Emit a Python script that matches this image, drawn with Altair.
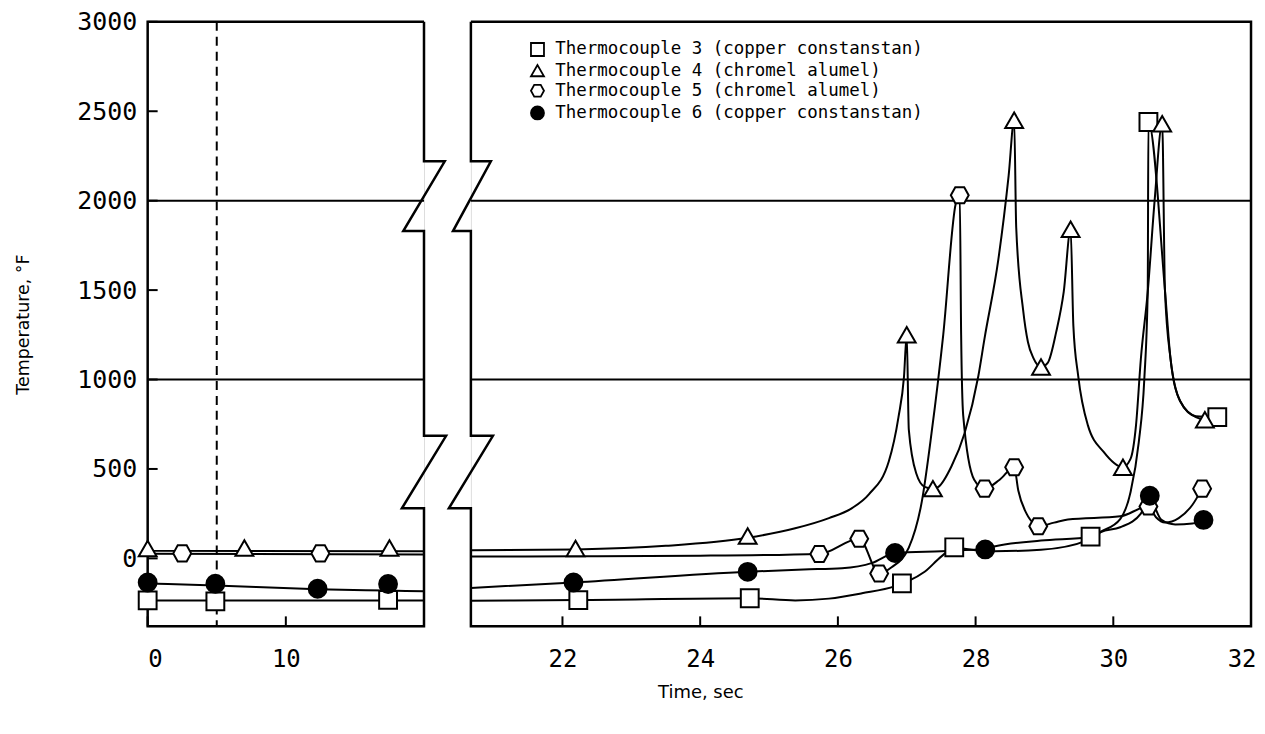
import altair as alt
import pandas as pd

# ---------------- data ----------------
SERIES = [
    "Thermocouple 3 (copper constanstan)",
    "Thermocouple 4 (chromel alumel)",
    "Thermocouple 5 (chromel alumel)",
    "Thermocouple 6 (copper constanstan)",
]

# left panel (0-20 s) measured points
tc3_left_x = [0.0, 4.9, 17.4]
tc3_left_y = [-235, -240, -232]
tc4_left_x = [0.0, 7.0, 17.5]
tc4_left_y = [55, 58, 58]
tc5_left_x = [2.5, 12.5]
tc5_left_y = [28, 28]
tc6_left_x = [0.0, 4.9, 12.3, 17.4]
tc6_left_y = [-135, -142, -170, -143]

# left panel faired curves
tc3_left_curve_x = [0.0, 20.0]
tc3_left_curve_y = [-236, -236]
tc4_left_curve_x = [0.0, 20.0]
tc4_left_curve_y = [42, 40]
tc5_left_curve_x = [0.0, 20.0]
tc5_left_curve_y = [26, 22]
tc6_left_curve_x = [0.0, 4.9, 12.3, 17.4, 20.0]
tc6_left_curve_y = [-140, -152, -172, -180, -184]

# right panel (20.7-32 s) measured points
tc3_right_x = [22.23, 24.72, 26.93, 27.69, 29.67, 30.51, 31.51]
tc3_right_y = [-233, -223, -140, 62, 122, 2440, 790]
tc4_right_x = [22.19, 24.69, 27.0, 27.38, 28.56, 28.95, 29.38, 30.14, 30.71, 31.33]
tc4_right_y = [55, 125, 1250, 390, 2450, 1070, 1840, 510, 2430, 775]
tc5_right_x = [25.73, 26.31, 26.6, 27.77, 28.13, 28.56, 28.91, 30.51, 31.29]
tc5_right_y = [25, 110, -85, 2030, 390, 510, 180, 290, 390]
tc6_right_x = [22.16, 24.69, 26.83, 28.14, 30.53, 31.31]
tc6_right_y = [-135, -75, 30, 50, 350, 215]

# right panel faired curves
tc3_right_curve_x = [20.67, 22.23, 24.72, 25.38, 25.87, 26.35, 26.83, 26.93, 27.03, 27.26,
                     27.5, 27.69, 28.04, 28.27, 28.95, 29.67, 29.82, 30.1, 30.25, 30.37,
                     30.45, 30.5, 30.51, 30.75, 30.83, 30.97, 31.2, 31.51]
tc3_right_curve_y = [-237, -233, -223, -235, -225, -195, -155, -140, -125, -75,
                     10, 60, 45, 67, 100, 120, 150, 220, 370, 650,
                     1000, 1500, 2440, 1500, 1120, 880, 795, 790]
tc4_right_curve_x = [20.67, 22.19, 23.5, 24.69, 25.38, 25.87, 26.2, 26.45, 26.74, 26.88,
                     26.96, 27.0, 27.03, 27.14, 27.26, 27.38, 27.46, 27.65, 27.84, 28.04,
                     28.13, 28.33, 28.48, 28.56, 28.59, 28.69, 28.76, 28.84, 28.95, 29.05,
                     29.17, 29.28, 29.38, 29.42, 29.49, 29.63, 29.86, 30.14, 30.25, 30.33,
                     30.4, 30.5, 30.6, 30.71, 30.75, 30.83, 30.97, 31.2, 31.33]
tc4_right_curve_y = [45, 50, 70, 115, 168, 225, 280, 358, 543, 790,
                     1015, 1250, 720, 473, 400, 390, 400, 515, 700, 1020,
                     1230, 1670, 2140, 2450, 1850, 1390, 1210, 1120, 1070, 1095,
                     1265, 1490, 1840, 1300, 1020, 745, 595, 510, 556, 745,
                     1115, 1490, 2000, 2430, 1500, 1120, 880, 790, 775]
tc5_right_curve_x = [20.67, 22.2, 24.0, 25.73, 26.31, 26.6, 26.78, 27.03, 27.22, 27.36,
                     27.53, 27.71, 27.77, 27.79, 27.82, 27.98, 28.13, 28.35, 28.56, 28.62,
                     28.74, 28.86, 28.91, 29.14, 29.34, 30.1, 30.51, 30.62, 30.75, 30.95,
                     31.15, 31.29]
tc5_right_curve_y = [10, 12, 15, 25, 110, -85, -50, 60, 320, 700,
                     1250, 1980, 2030, 1250, 800, 440, 390, 440, 510, 380,
                     250, 190, 180, 200, 217, 235, 290, 230, 200, 225,
                     300, 390]
tc6_right_curve_x = [20.67, 22.16, 24.69, 25.5, 26.06, 26.5, 26.83, 27.5, 28.14, 28.27,
                     28.95, 29.63, 29.82, 30.1, 30.4, 30.53, 30.6, 30.7, 30.9, 31.15, 31.31]
tc6_right_curve_y = [-165, -135, -75, -62, -55, -25, 30, 40, 50, 40,
                     48, 102, 147, 174, 250, 350, 290, 215, 190, 195, 215]

# axis ticks, grid and panel frames (with broken-axis zigzags)
y_tick_values = [0, 500, 1000, 1500, 2000, 2500, 3000]
grid_values = [1000, 2000]
left_x_ticks = [0, 10]
right_x_ticks = [22, 24, 26, 28, 30, 32]
event_time = [5]
left_frame_x = [20, 0, 0, 20, 20, 18.4, 21.6, 20, 20, 18.5, 21.5, 20, 20]
left_frame_y = [3000, 3000, -380, -380, 280, 280, 685, 685, 1830, 1830, 2220, 2220, 3000]
right_frame_x = [20.67, 32, 32, 20.67, 20.67, 20.35, 20.99, 20.67, 20.67, 20.41, 20.96, 20.67, 20.67]
right_frame_y = [3000, 3000, -380, -380, 280, 280, 685, 685, 1830, 1830, 2220, 2220, 3000]

# ---------------- build tables ----------------
def table(pairs):
    frames = []
    for name, xs, ys in pairs:
        frames.append(pd.DataFrame({"x": xs, "y": ys, "series": name, "i": list(range(len(xs)))}))
    return pd.concat(frames, ignore_index=True)

left_pts = table([(SERIES[0], tc3_left_x, tc3_left_y), (SERIES[1], tc4_left_x, tc4_left_y),
                  (SERIES[2], tc5_left_x, tc5_left_y), (SERIES[3], tc6_left_x, tc6_left_y)])
right_pts = table([(SERIES[0], tc3_right_x, tc3_right_y), (SERIES[1], tc4_right_x, tc4_right_y),
                   (SERIES[2], tc5_right_x, tc5_right_y), (SERIES[3], tc6_right_x, tc6_right_y)])
left_lines = table([(SERIES[0], tc3_left_curve_x, tc3_left_curve_y), (SERIES[1], tc4_left_curve_x, tc4_left_curve_y),
                    (SERIES[2], tc5_left_curve_x, tc5_left_curve_y), (SERIES[3], tc6_left_curve_x, tc6_left_curve_y)])
right_lines = table([(SERIES[0], tc3_right_curve_x, tc3_right_curve_y), (SERIES[1], tc4_right_curve_x, tc4_right_curve_y),
                     (SERIES[2], tc5_right_curve_x, tc5_right_curve_y), (SERIES[3], tc6_right_curve_x, tc6_right_curve_y)])
left_frame = table([("frame", left_frame_x, left_frame_y)])
right_frame = table([("frame", right_frame_x, right_frame_y)])

# ---------------- styling ----------------
H = 606
WL = 277
WR = 782
Y_DOMAIN = [-380, 3000]
MONO = "DejaVu Sans Mono"
SANS = "DejaVu Sans"
HEX = "M -1 0 L -0.5 -0.9 L 0.5 -0.9 L 1 0 L 0.5 0.9 L -0.5 0.9 Z"

shape_scale = alt.Scale(domain=SERIES, range=["square", "triangle-up", HEX, "circle"])
fill_scale = alt.Scale(domain=SERIES, range=["white", "white", "white", "black"])
stroke_scale = alt.Scale(domain=SERIES, range=["black", "black", "black", "black"])

legend = alt.Legend(
    title=None, orient="none", legendX=382, legendY=19,
    labelFont=MONO, labelFontSize=17.5, labelColor="black", labelOffset=9, labelLimit=1000,
    symbolSize=170, symbolStrokeColor="black", symbolStrokeWidth=1.8,
    rowPadding=1.2, padding=0,
)


def panel(xdomain, width, pts, lines, frame, xticks, xaxis, yaxis, extra=None):
    xs = alt.Scale(domain=xdomain, nice=False, zero=False)
    ys = alt.Scale(domain=Y_DOMAIN, nice=False, zero=False)
    X = alt.X("x:Q", scale=xs, axis=xaxis)
    Y = alt.Y("y:Q", scale=ys, axis=yaxis)

    grid = alt.Chart(pd.DataFrame({"y": grid_values})).mark_rule(
        color="black", strokeWidth=2).encode(y=Y)
    frame_l = alt.Chart(frame).mark_line(
        color="black", strokeWidth=2.5, strokeJoin="miter", clip=False).encode(
        x=X, y=Y, order=alt.Order("i:Q"))
    xt = alt.Chart(pd.DataFrame({"x": xticks})).mark_rule(
        color="black", strokeWidth=2).encode(x=X, y=alt.value(H), y2=alt.value(H - 10))
    curves = alt.Chart(lines).mark_line(
        color="black", strokeWidth=2, interpolate="monotone").encode(
        x=X, y=Y, detail="series:N", order=alt.Order("i:Q"))
    marks = alt.Chart(pts).mark_point(
        filled=True, strokeWidth=2, size=320, opacity=1).encode(
        x=X, y=Y,
        shape=alt.Shape("series:N", scale=shape_scale, legend=legend),
        fill=alt.Fill("series:N", scale=fill_scale, legend=legend),
        stroke=alt.Stroke("series:N", scale=stroke_scale, legend=legend),
    )
    layers = [grid, xt, frame_l, curves]
    if extra is not None:
        layers = extra(X, Y) + layers
    layers.append(marks)
    return alt.layer(*layers).properties(width=width, height=H)


def left_extra(X, Y):
    dashed = alt.Chart(pd.DataFrame({"x": event_time})).mark_rule(
        color="black", strokeWidth=2, strokeDash=[9, 6]).encode(x=X)
    yt = alt.Chart(pd.DataFrame({"y": y_tick_values})).mark_rule(
        color="black", strokeWidth=2).encode(y=Y, x=alt.value(0), x2=alt.value(10))
    return [dashed, yt]


left_xaxis = alt.Axis(values=left_x_ticks, ticks=False, domain=False, grid=False, format="d",
                      labelFont=MONO, labelFontSize=24, labelColor="black", labelPadding=21,
                      title=None)
right_xaxis = alt.Axis(values=right_x_ticks, ticks=False, domain=False, grid=False, format="d",
                       labelFont=MONO, labelFontSize=24, labelColor="black", labelPadding=21,
                       labelFlush=True, labelFlushOffset=5,
                       title="Time, sec", titleFont=SANS, titleFontSize=18, titleFontWeight="normal",
                       titleColor="black", titleX=230, titlePadding=12)
left_yaxis = alt.Axis(values=y_tick_values, ticks=False, domain=False, grid=False, format="d",
                      labelFont=MONO, labelFontSize=25, labelColor="black", labelPadding=11,
                      title="Temperature, °F", titleFont=SANS, titleFontSize=17.5,
                      titleFontWeight="normal", titleColor="black", titlePadding=44)
right_yaxis = alt.Axis(values=y_tick_values, ticks=False, domain=False, grid=False,
                       labels=False, title=None)

left = panel([0, 20], WL, left_pts, left_lines, left_frame, left_x_ticks, left_xaxis, left_yaxis,
             extra=left_extra)
right = panel([20.67, 32], WR, right_pts, right_lines, right_frame, right_x_ticks, right_xaxis,
              right_yaxis)

chart = alt.hconcat(left, right, spacing=47, bounds="flush").properties(
    padding={"left": 6, "top": 0, "right": 0, "bottom": 4}
).configure_view(stroke=None).configure(background="white")

chart.save("out.html", embed_options={"renderer": "svg", "actions": False})
